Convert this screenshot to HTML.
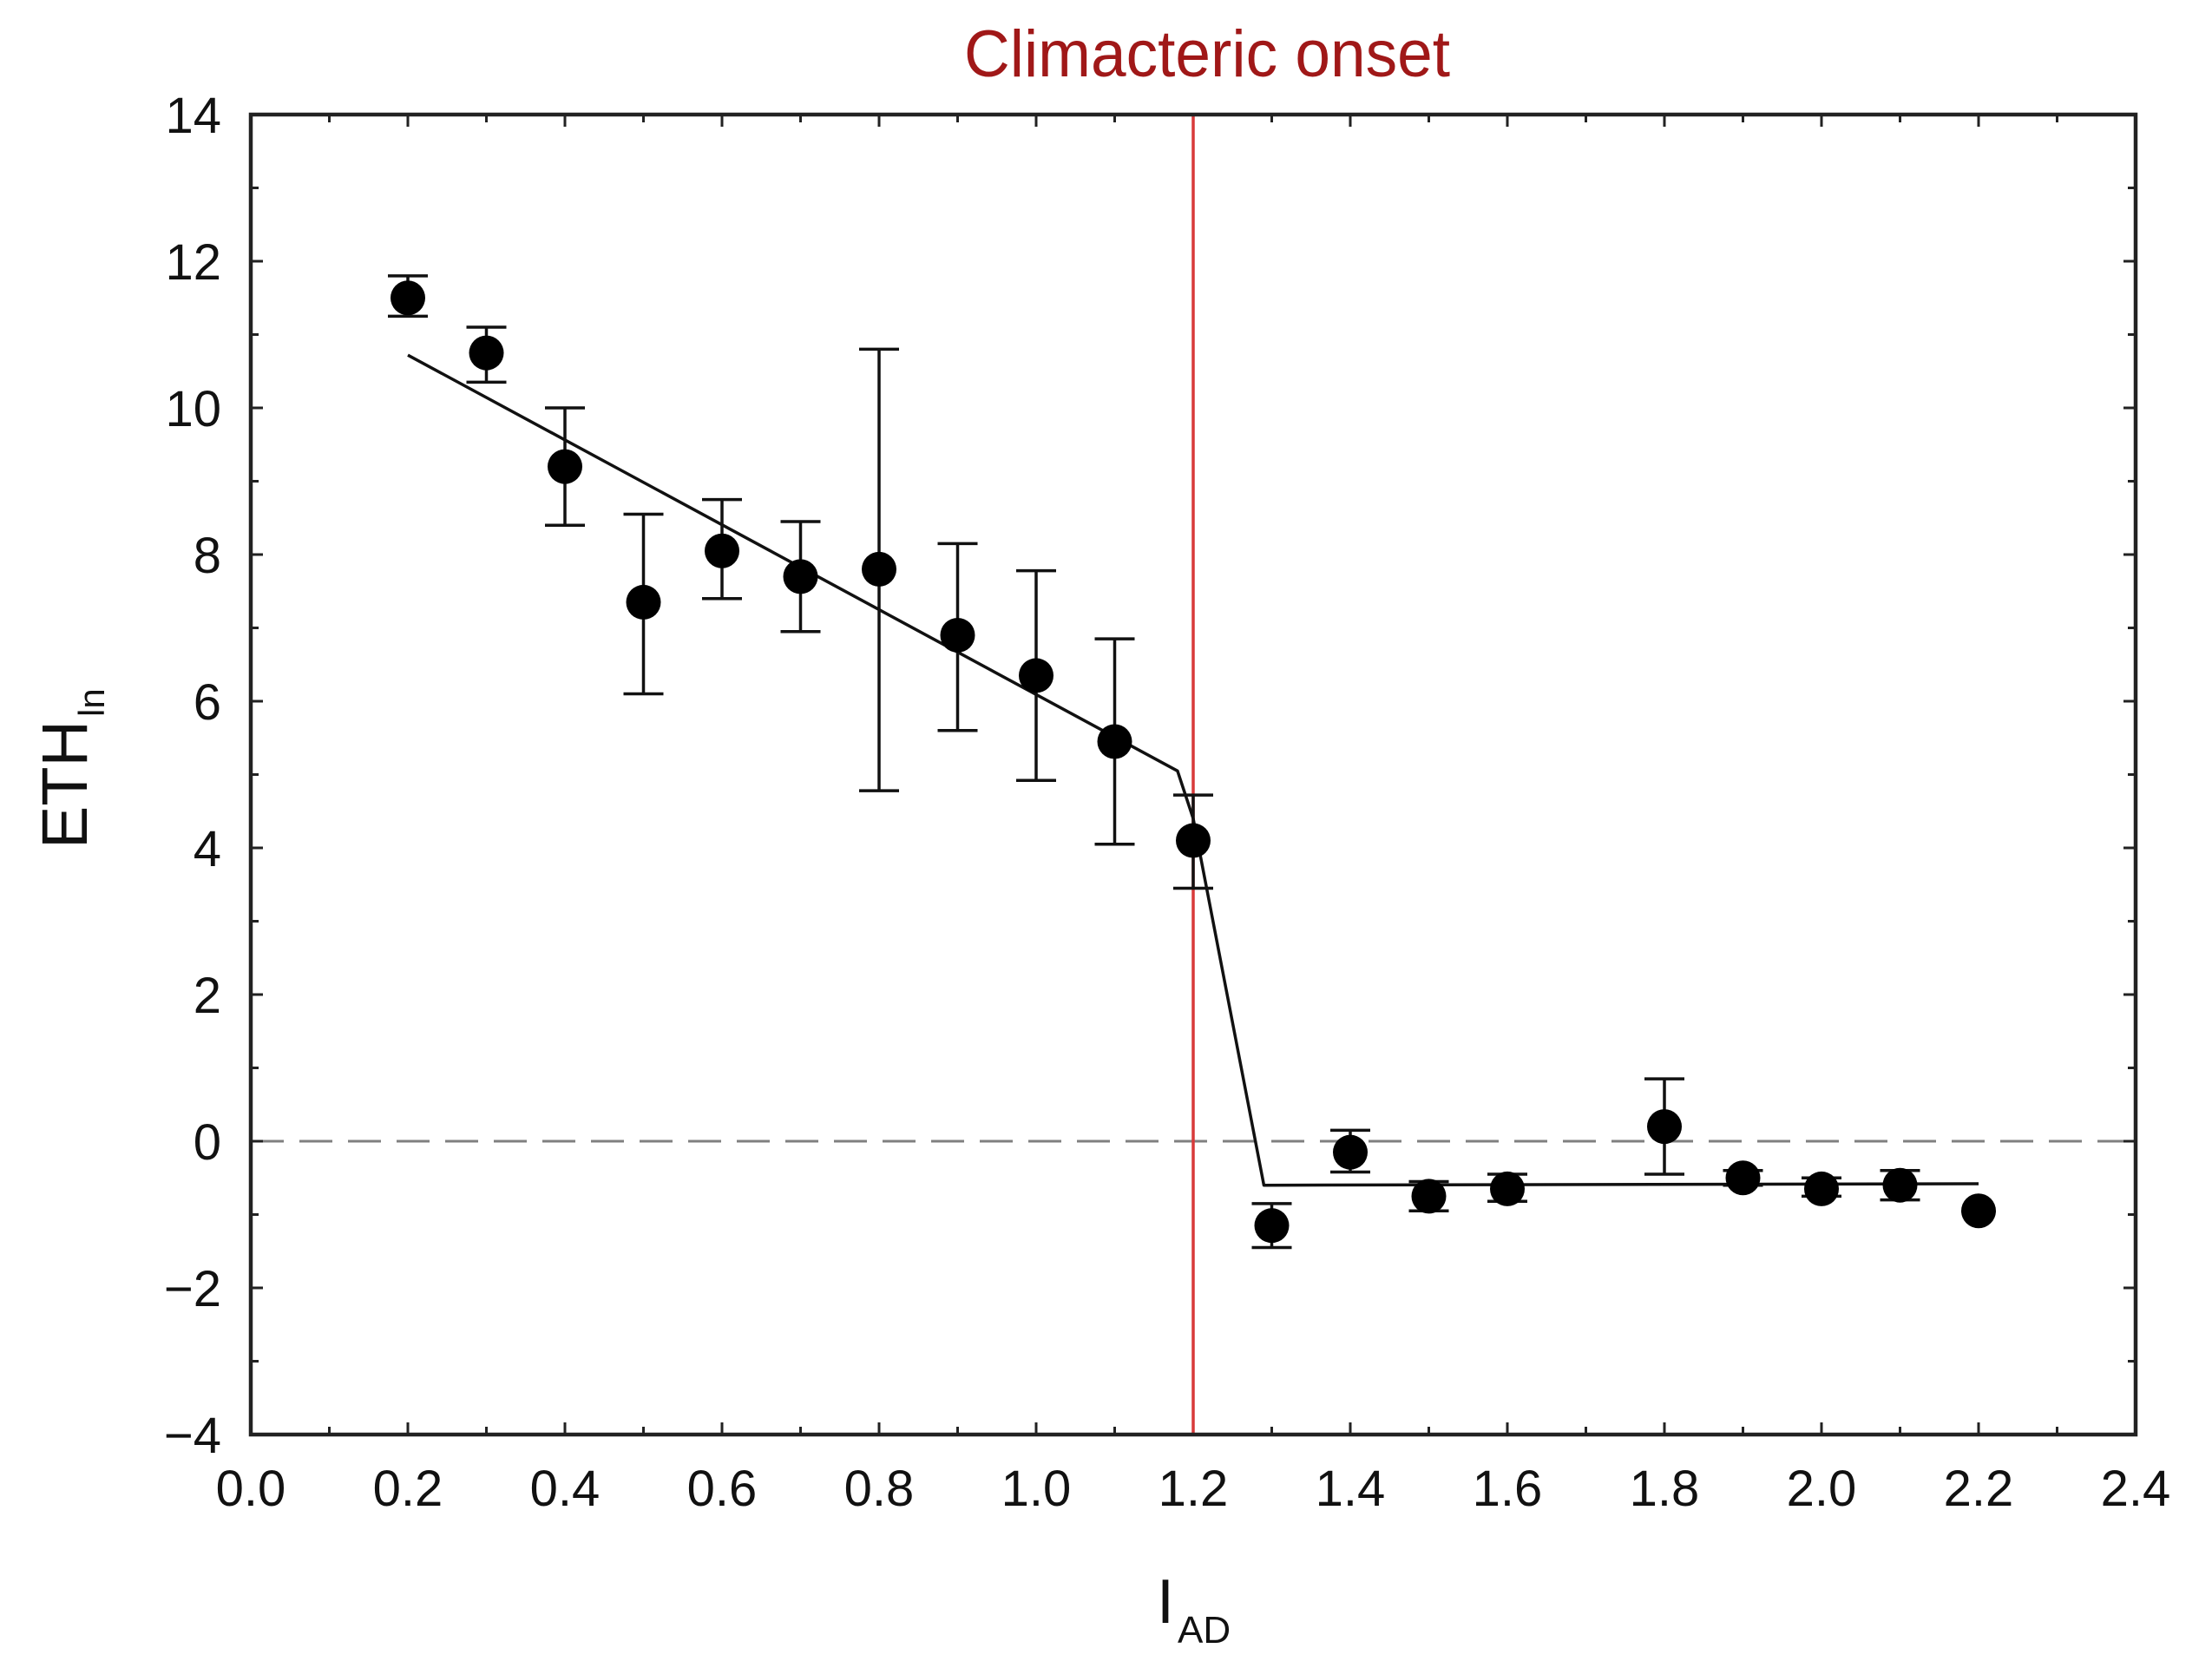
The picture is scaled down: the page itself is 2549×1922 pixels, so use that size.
<!DOCTYPE html>
<html><head><meta charset="utf-8"><style>
html,body{margin:0;padding:0;background:#fff}
svg{display:block}
text{font-family:"Liberation Sans",Arial,sans-serif}
</style></head><body>
<svg id="chart" width="2549" height="1922" viewBox="0 0 2549 1922" xmlns="http://www.w3.org/2000/svg">
<rect x="0" y="0" width="2549" height="1922" fill="#fff"/>
<g id="grid"></g>
<g id="marks"></g>
<text x="1391" y="88" text-anchor="middle" font-size="76" fill="#a01818" textLength="560" lengthAdjust="spacingAndGlyphs">Climacteric onset</text>
<text transform="translate(100,978) rotate(-90)" font-size="74" fill="#111">ETH<tspan font-size="42" dy="20" dx="4">ln</tspan></text>
<text x="1333" y="1870" font-size="72" fill="#111">I<tspan font-size="44" dy="23" dx="4">AD</tspan></text>
</svg>
<script>
const xTicks = [0.0,0.2,0.4,0.6,0.8,1.0,1.2,1.4,1.6,1.8,2.0,2.2,2.4];
const xTickLabels = ["0.0","0.2","0.4","0.6","0.8","1.0","1.2","1.4","1.6","1.8","2.0","2.2","2.4"];
const yTicks = [-4,-2,0,2,4,6,8,10,12,14];
const yTickLabels = ["\u22124","\u22122","0","2","4","6","8","10","12","14"];
const xValues = [0.2,0.3,0.4,0.5,0.6,0.7,0.8,0.9,1.0,1.1,1.2,1.3,1.4,1.5,1.6,1.8,1.9,2.0,2.1,2.2];
const yValues = [11.5,10.75,9.2,7.35,8.05,7.7,7.8,6.9,6.35,5.45,4.1,-1.15,-0.15,-0.75,-0.65,0.2,-0.5,-0.65,-0.6,-0.95];
const errLow = [11.25,10.35,8.4,6.1,7.4,6.95,4.78,5.6,4.92,4.05,3.45,-1.45,-0.42,-0.95,-0.82,-0.45,-0.6,-0.75,-0.8,null];
const errHigh = [11.8,11.1,10.0,8.55,8.75,8.45,10.8,8.15,7.78,6.85,4.72,-0.85,0.15,-0.55,-0.45,0.85,-0.4,-0.5,-0.4,null];
const fitX = [0.2,1.18,1.2,1.29,2.2];
const fitY = [10.72,5.05,4.4,-0.6,-0.58];
const onsetX = [1.2];

const L=289,R=2461,T=132,B=1653;
const sx=v=>L+(v-0)/(2.4-0)*(R-L);
const sy=v=>B-(v-(-4))/(14-(-4))*(B-T);
const NS="http://www.w3.org/2000/svg";
const grid=document.getElementById('grid');
const marks=document.getElementById('marks');
function mk(tag,attrs,parent){const e=document.createElementNS(NS,tag);for(const k in attrs)e.setAttribute(k,attrs[k]);parent.appendChild(e);return e;}

let zl=mk('line',{x1:L,x2:R,y1:sy(0),y2:sy(0),stroke:'#808080','stroke-width':3,'stroke-dasharray':'38,18'},grid);



for(let i=0;i<xTicks.length;i++){
  const x=sx(xTicks[i]);
  let t=mk('line',{x1:x,x2:x,y1:B,y2:B-14,stroke:'#222','stroke-width':3},grid);
  
  
  let t2=mk('line',{x1:x,x2:x,y1:T,y2:T+14,stroke:'#222','stroke-width':3},grid);
  
  
  if(i<xTicks.length-1){
    const xm=sx(xTicks[i]+0.1);
    let m=mk('line',{x1:xm,x2:xm,y1:B,y2:B-9,stroke:'#222','stroke-width':3},grid);
    
    
    let m2=mk('line',{x1:xm,x2:xm,y1:T,y2:T+9,stroke:'#222','stroke-width':3},grid);
    
    
  }
  let lb=mk('text',{x:x,y:1735,'font-size':58,'text-anchor':'middle',fill:'#111'},grid);
  lb.textContent=xTickLabels[i];
  
  
}
for(let i=0;i<yTicks.length;i++){
  const y=sy(yTicks[i]);
  let t=mk('line',{x1:L,x2:L+14,y1:y,y2:y,stroke:'#222','stroke-width':3},grid);
  
  
  let t2=mk('line',{x1:R,x2:R-14,y1:y,y2:y,stroke:'#222','stroke-width':3},grid);
  
  
  if(i<yTicks.length-1){
    const ym=sy(yTicks[i]+1);
    let m=mk('line',{x1:L,x2:L+9,y1:ym,y2:ym,stroke:'#222','stroke-width':3},grid);
    
    
    let m2=mk('line',{x1:R,x2:R-9,y1:ym,y2:ym,stroke:'#222','stroke-width':3},grid);
    
    
  }
  let lb=mk('text',{x:255,y:y+21,'font-size':58,'text-anchor':'end',fill:'#111'},grid);
  lb.textContent=yTickLabels[i];
  
  
}

for(const ox of onsetX){
  let ol=mk('line',{x1:sx(ox),x2:sx(ox),y1:T,y2:B,stroke:'#d83a3a','stroke-width':3.5},marks);
  
  
}

let pts=fitX.map((v,i)=>sx(v)+','+sy(fitY[i])).join(' ');
let fl=mk('polyline',{points:pts,fill:'none',stroke:'#111','stroke-width':3.5,'stroke-linejoin':'round'},marks);



for(let i=0;i<xValues.length;i++){
  const x=sx(xValues[i]);
  if(errLow[i]!==null){
    const g=mk('g',{stroke:'#111','stroke-width':3.5},marks);
    
    
    mk('line',{x1:x,x2:x,y1:sy(errLow[i]),y2:sy(errHigh[i])},g);
    mk('line',{x1:x-23,x2:x+23,y1:sy(errLow[i]),y2:sy(errLow[i])},g);
    mk('line',{x1:x-23,x2:x+23,y1:sy(errHigh[i]),y2:sy(errHigh[i])},g);
  }
  let c=mk('circle',{cx:x,cy:sy(yValues[i]),r:20,fill:'#000'},marks);
  
  
}

let fr=mk('rect',{x:L,y:T,width:R-L,height:B-T,fill:'none',stroke:'#222','stroke-width':4.5},marks);


</script>
</body></html>
